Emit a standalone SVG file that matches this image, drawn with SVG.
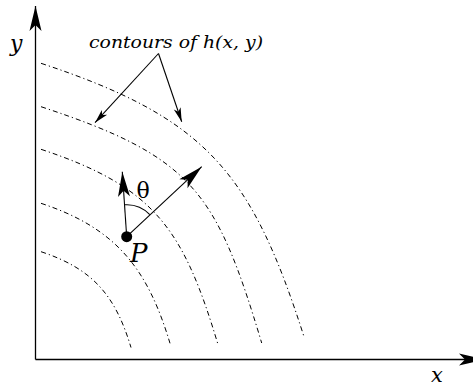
<svg xmlns="http://www.w3.org/2000/svg" width="473" height="390" viewBox="0 0 473 390">
<style>
.axis{stroke:#000;stroke-width:1.3;fill:none}
.contour{stroke:#000;stroke-width:1;fill:none;stroke-dasharray:5 3 1.2 3}
.vec{stroke:#000;stroke-width:1.1;fill:none}
.lbl{font-family:"DejaVu Serif","Liberation Serif",serif;font-style:italic;fill:#000}
.sym{font-family:"DejaVu Serif","Liberation Serif",serif;fill:#000}
</style>
<defs>
<marker id="big" viewBox="-26 -7 27 14" refX="0" refY="0" markerWidth="27" markerHeight="14" markerUnits="userSpaceOnUse" orient="auto" overflow="visible">
<path d="M0,0 L-25,-6 L-19,0 L-25,6 Z" fill="#000"/>
</marker>
<marker id="small" viewBox="-14 -4 15 8" refX="0" refY="0" markerWidth="15" markerHeight="8" markerUnits="userSpaceOnUse" orient="auto" overflow="visible">
<path d="M0,0 L-14,-3.6 L-10.5,0 L-14,3.6 Z" fill="#000"/>
</marker>
</defs>
<g id="axes">
<path class="axis" d="M35.5,359.5 L35.5,6" marker-end="url(#big)"/>
<path class="axis" d="M35.5,359.5 L484,359.5" marker-end="url(#big)"/>
<text class="lbl" x="10" y="51" font-size="22">y</text>
<text class="lbl" x="431" y="382" font-size="21">x</text>
</g>
<g id="contours">
<path class="contour" d="M41,251.7 C93,268.9 115.4,295.5 131,347.5"/>
<path class="contour" d="M41,203.3 C116,228.1 147.5,268.3 170,343.3"/>
<path class="contour" d="M41,149.3 C156,187.3 183.8,230.5 218.3,345.5"/>
<path class="contour" d="M41,106.7 C193,156.9 216.1,191 261.7,343"/>
<path class="contour" d="M41,63.3 C206,117.8 251.2,171.7 304,336.7"/>
</g>
<g id="label-contours">
<text class="lbl" x="89" y="47.5" font-size="17.5" textLength="174" lengthAdjust="spacingAndGlyphs">contours of h(x, y)</text>
</g>
<g id="connectors">
<path class="vec" d="M158.5,53.5 L95,122.7" marker-end="url(#small)"/>
<path class="vec" d="M158.5,53.5 L181.7,121.7" marker-end="url(#small)"/>
</g>
<g id="point-P">
<path class="vec" d="M126.7,236.7 L122.3,171.7" marker-end="url(#big)"/>
<path class="vec" d="M126.7,236.7 L201.7,166.7" marker-end="url(#big)"/>
<path class="vec" d="M124.5,204.8 A32,32 0 0 1 149.8,214.6"/>
<circle cx="126.7" cy="236.7" r="5.5" fill="#000"/>
<text class="lbl" x="130" y="262" font-size="26">P</text>
<text class="sym" x="136.5" y="198" font-size="22">θ</text>
</g>
</svg>
